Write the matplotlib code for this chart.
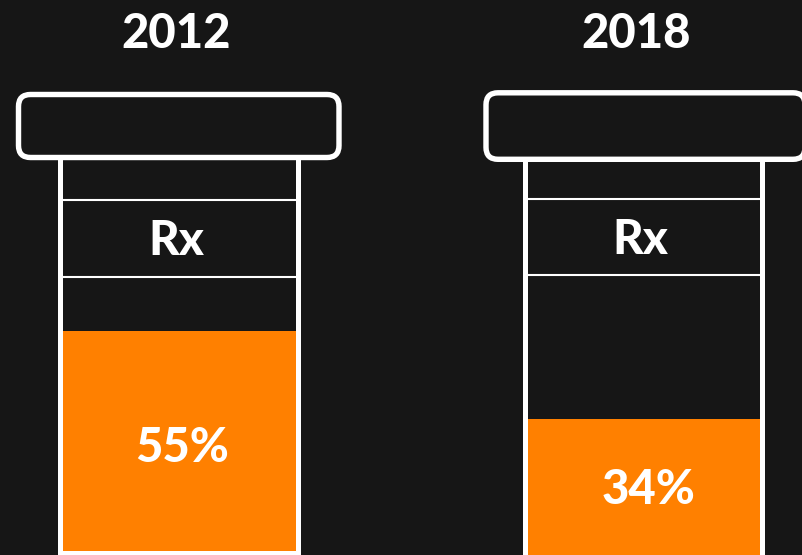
"""Pill bottle chart: share filled in 2012 and 2018."""
import matplotlib.pyplot as plt
from matplotlib.patches import FancyBboxPatch, Rectangle

years = ["2012", "2018"]
values = [55, 34]
value_labels = ["55%", "34%"]
label_text = "Rx"

BG = "#161616"
ORANGE = "#ff8000"
W, H = 803, 555

# pixel geometry of each bottle
bottles = [
    dict(cap=(18.5, 339, 94.5, 157.5), body=(60.5, 298), top=158, bottom=551,
         band=(200, 277), px_per_unit=220 / 55, title_x=176, rx=(176, 241),
         val=(182, 448)),
    dict(cap=(486, 805, 92.8, 159.3), body=(525.5, 762), top=159, bottom=555,
         band=(199, 275), px_per_unit=136 / 34, title_x=636, rx=(640, 240),
         val=(649, 490)),
]

fig = plt.figure(figsize=(W / 100, H / 100), dpi=100, facecolor=BG)
ax = fig.add_axes([0, 0, 1, 1])
ax.set_xlim(0, W)
ax.set_ylim(H, 0)
ax.axis("off")

font = ["Lato", "DejaVu Sans"]
WALL = 3.6

for year, value, val_label, b in zip(years, values, value_labels, bottles):
    left, right = b["body"]
    fill_h = value * b["px_per_unit"]
    ax.add_patch(Rectangle((left, b["bottom"] - fill_h), right - left, fill_h,
                           facecolor=ORANGE, edgecolor="none", zorder=1))
    for x in (left, right):
        ax.plot([x, x], [b["top"], H + 5], color="white", lw=WALL, zorder=2,
                solid_capstyle="butt")
    if b["bottom"] < H:
        ax.add_patch(Rectangle((left, b["bottom"]), right - left, H - b["bottom"] + 5,
                               facecolor="white", edgecolor="none", zorder=2))
    for y in b["band"]:
        ax.plot([left, right], [y, y], color="white", lw=1.5, zorder=2,
                solid_capstyle="butt")
    cl, cr, ct, cb = b["cap"]
    ax.add_patch(FancyBboxPatch((cl + 12, ct + 12), cr - cl - 24, cb - ct - 24,
                                boxstyle="round,pad=12,rounding_size=12",
                                facecolor=BG, edgecolor="white", lw=3.9, zorder=3))
    ax.text(b["title_x"], 34, year, color="white", fontsize=34, fontweight=900,
            ha="center", va="center", family=font)
    ax.text(b["rx"][0], b["rx"][1], label_text, color="white", fontsize=34,
            fontweight=900, ha="center", va="center", family=font)
    ax.text(b["val"][0], b["val"][1], val_label, color="white", fontsize=34,
            fontweight=900, ha="center", va="center", family=font, zorder=4)

fig.savefig("out.png", dpi=100, facecolor=BG)
